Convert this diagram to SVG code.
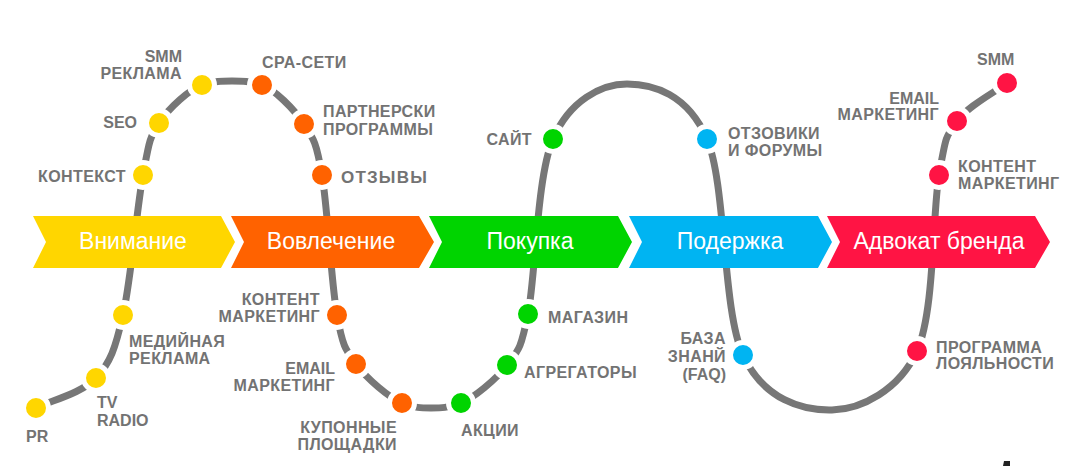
<svg xmlns="http://www.w3.org/2000/svg" width="1074" height="466" viewBox="0 0 1074 466">
<style>
.lbl{font-family:"Liberation Sans",Arial,sans-serif;font-weight:bold;font-size:16px;fill:#737373;letter-spacing:0.4px}
.lat{letter-spacing:0}
.big{font-size:17px;letter-spacing:1.2px}
.end{text-anchor:end}
.stage{font-family:"Liberation Sans",Arial,sans-serif;font-size:23px;fill:#ffffff;text-anchor:middle}
.dot{stroke:#ffffff;stroke-width:5}
.y{fill:#FFD600}.o{fill:#FF6200}.g{fill:#00D400}.b{fill:#00B4F2}.r{fill:#FF1444}
</style>
<rect width="1074" height="466" fill="#ffffff"/>
<g id="connectors">
<path d="M36,408 C51,400.5 81.5,393.5 96,378 C110.5,362.5 115.2,348.8 123,315 C130.8,281.2 137,207 143,175 C149,143 149.2,138 159,123 C168.8,108 190,89 202,85 C214,81 222,81 232,81 C242,81 250,81 262,85 C274,89 294,109 304,124 C314,139 316.5,143.2 322,175 C327.5,206.8 331.3,283.5 337,315 C342.7,346.5 345.2,349.3 356,364 C366.8,378.7 389.5,398 402,403 C414.5,408 421.2,408 431,408 C440.8,408 448.3,408 461,403 C473.7,398 495.8,379.8 507,365 C518.2,350.2 520.3,351.7 528,314 C535.7,276.3 536.5,177.3 553,139 C569.5,100.7 601.3,84 627,84 C652.7,84 687.7,93.8 707,139 C726.3,184.2 722.2,309.8 743,355 C763.8,400.2 803,410.7 832,410 C861,409.3 899.2,390.2 917,351 C934.8,311.8 932.3,213.3 939,175 C945.7,136.7 945.7,136.3 957,121 C968.3,105.7 994.5,92.5 1007,83" fill="none" stroke="#777777" stroke-width="7"/>
</g>
<g id="stages">
<g id="stage-attention"><polygon class="y" points="33,216 221,216 235,242 221,268 33,268 46,242"/><text class="stage" x="133" y="249">Внимание</text></g>
<g id="stage-engagement"><polygon class="o" points="231,216 419,216 434,242 419,268 231,268 244,242"/><text class="stage" x="331" y="249">Вовлечение</text></g>
<g id="stage-purchase"><polygon class="g" points="429,216 618,216 632,242 618,268 429,268 442,242"/><text class="stage" x="530" y="249">Покупка</text></g>
<g id="stage-support"><polygon class="b" points="629,216 818,216 832,242 818,268 629,268 642,242"/><text class="stage" x="730" y="249">Подержка</text></g>
<g id="stage-advocate"><polygon class="r" points="827,216 1035,216 1050,242 1035,268 827,268 840,242"/><text class="stage" x="939" y="249">Адвокат бренда</text></g>
</g>
<g id="n-pr"><circle class="dot y" cx="36" cy="408" r="12.5"/><text class="lbl lat" x="26" y="442">PR</text></g>
<g id="n-tv"><circle class="dot y" cx="96" cy="378" r="12.5"/><text class="lbl lat" x="97" y="408">TV</text><text class="lbl lat" x="97" y="426">RADIO</text></g>
<g id="n-media"><circle class="dot y" cx="123" cy="315" r="12.5"/><text class="lbl" x="129" y="347">МЕДИЙНАЯ</text><text class="lbl" x="129" y="364">РЕКЛАМА</text></g>
<g id="n-context"><circle class="dot y" cx="143" cy="175" r="12.5"/><text class="lbl end" x="126" y="182">КОНТЕКСТ</text></g>
<g id="n-seo"><circle class="dot y" cx="159" cy="123" r="12.5"/><text class="lbl lat end" x="137" y="128">SEO</text></g>
<g id="n-smm-ads"><circle class="dot y" cx="202" cy="85" r="12.5"/><text class="lbl lat end" x="182" y="62">SMM</text><text class="lbl end" x="182" y="79">РЕКЛАМА</text></g>
<g id="n-cpa"><circle class="dot o" cx="262" cy="85" r="12.5"/><text class="lbl" x="262" y="68">CPA-СЕТИ</text></g>
<g id="n-partner"><circle class="dot o" cx="304" cy="124" r="12.5"/><text class="lbl" x="323" y="117">ПАРТНЕРСКИ</text><text class="lbl" x="323" y="135">ПРОГРАММЫ</text></g>
<g id="n-reviews"><circle class="dot o" cx="322" cy="175" r="12.5"/><text class="lbl big" x="341" y="183">ОТЗЫВЫ</text></g>
<g id="n-content-o"><circle class="dot o" cx="337" cy="315" r="12.5"/><text class="lbl end" x="320" y="305">КОНТЕНТ</text><text class="lbl end" x="320" y="322">МАРКЕТИНГ</text></g>
<g id="n-email-o"><circle class="dot o" cx="356" cy="364" r="12.5"/><text class="lbl lat end" x="335" y="374">EMAIL</text><text class="lbl end" x="335" y="391">МАРКЕТИНГ</text></g>
<g id="n-coupon"><circle class="dot o" cx="402" cy="403" r="12.5"/><text class="lbl end" x="397" y="433">КУПОННЫЕ</text><text class="lbl end" x="397" y="450">ПЛОЩАДКИ</text></g>
<g id="n-promo"><circle class="dot g" cx="461" cy="403" r="12.5"/><text class="lbl" x="461" y="436">АКЦИИ</text></g>
<g id="n-aggr"><circle class="dot g" cx="507" cy="365" r="12.5"/><text class="lbl" x="524" y="378">АГРЕГАТОРЫ</text></g>
<g id="n-shop"><circle class="dot g" cx="528" cy="314" r="12.5"/><text class="lbl" x="548" y="323">МАГАЗИН</text></g>
<g id="n-site"><circle class="dot g" cx="553" cy="139" r="12.5"/><text class="lbl end" x="532" y="145">САЙТ</text></g>
<g id="n-forums"><circle class="dot b" cx="707" cy="139" r="12.5"/><text class="lbl" x="728" y="139">ОТЗОВИКИ</text><text class="lbl" x="728" y="156">И ФОРУМЫ</text></g>
<g id="n-faq"><circle class="dot b" cx="743" cy="355" r="12.5"/><text class="lbl end" x="726" y="344">БАЗА</text><text class="lbl end" x="726" y="362">ЗНАНЙ</text><text class="lbl lat end" x="726" y="380">(FAQ)</text></g>
<g id="n-loyalty"><circle class="dot r" cx="917" cy="351" r="12.5"/><text class="lbl" x="936" y="353">ПРОГРАММА</text><text class="lbl" x="936" y="369">ЛОЯЛЬНОСТИ</text></g>
<g id="n-content-r"><circle class="dot r" cx="939" cy="175" r="12.5"/><text class="lbl" x="958" y="172">КОНТЕНТ</text><text class="lbl" x="958" y="189">МАРКЕТИНГ</text></g>
<g id="n-email-r"><circle class="dot r" cx="957" cy="121" r="12.5"/><text class="lbl lat end" x="939" y="104">EMAIL</text><text class="lbl end" x="939" y="120">МАРКЕТИНГ</text></g>
<g id="n-smm-r"><circle class="dot r" cx="1007" cy="83" r="12.5"/><text class="lbl lat" x="977" y="65">SMM</text></g>
<polygon points="1004,461 1010,461 1010,466 1003,466" fill="#222222"/>
</svg>
